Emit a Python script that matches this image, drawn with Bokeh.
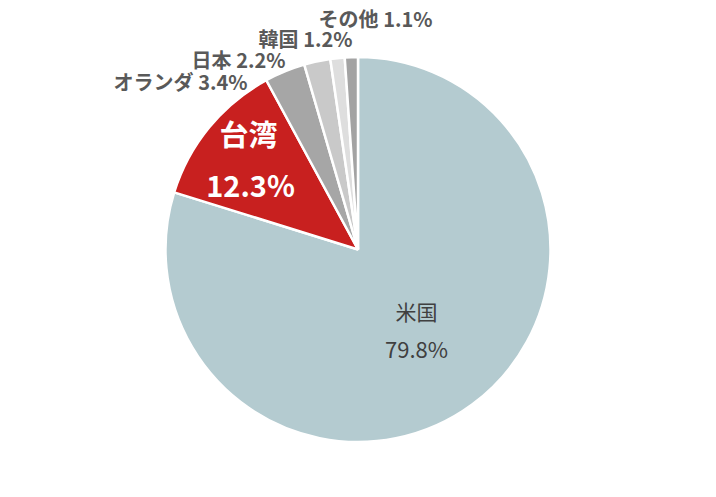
import numpy as np
from bokeh.plotting import figure
from bokeh.models import Range1d, ColumnDataSource
from bokeh.core.properties import value
from bokeh.embed import file_html
from bokeh.resources import INLINE

countries = ["米国", "台湾", "オランダ", "日本", "韓国", "その他"]
shares = [79.8, 12.3, 3.4, 2.2, 1.2, 1.1]
colors = ["#B4CBD0", "#C8201F", "#A6A6A6", "#C9C9C9", "#DEDEDE", "#A3A3A3"]

W, H = 700, 481
p = figure(width=W, height=H, output_backend="svg", toolbar_location=None,
           x_range=Range1d(0, W), y_range=Range1d(497 - H, 497),
           min_border=0, outline_line_color=None)
p.axis.visible = False
p.grid.visible = False
p.background_fill_color = "white"

def Y(y):  # reference pixel row -> data y
    return 497 - y

cx, cy, r = 357.5, Y(249), 192.5
frac = np.array(shares) / sum(shares)
cum = np.concatenate([[0], np.cumsum(frac)])
start = np.pi / 2 - cum[:-1] * 2 * np.pi
end = np.pi / 2 - cum[1:] * 2 * np.pi
src = ColumnDataSource(dict(start=start, end=end, color=colors))
p.wedge(x=cx, y=cy, radius=r, start_angle="start", end_angle="end",
        direction="clock", fill_color="color", line_color="white",
        line_width=2.5, source=src)

font = value("Noto Sans CJK JP")

# inside labels
p.text(x=[416], y=[Y(310)], text=[countries[0]], text_font=font,
       text_font_size="21px", text_color="#404040",
       text_align="center", text_baseline="middle")
p.text(x=[416], y=[Y(347)], text=[f"{shares[0]}%"], text_font=font,
       text_font_size="22px", text_color="#404040",
       text_align="center", text_baseline="middle")
p.text(x=[248], y=[Y(132)], text=[countries[1]], text_font=font,
       text_font_size="29px", text_font_style="bold", text_color="white",
       text_align="center", text_baseline="middle")
p.text(x=[250], y=[Y(183)], text=[f"{shares[1]}%"], text_font=font,
       text_font_size="29px", text_font_style="bold", text_color="white",
       text_align="center", text_baseline="middle")

# outside labels
lab_x = [247, 285, 352, 432]
lab_y = [Y(81), Y(59), Y(38), Y(18)]
lab_t = [f"{c} {s}%" for c, s in zip(countries[2:], shares[2:])]
p.text(x=lab_x, y=lab_y, text=lab_t, text_font=font, text_font_size="20px",
       text_font_style="bold", text_color="#595959",
       text_align="right", text_baseline="middle")

open("out.html", "w").write(file_html(p, INLINE))
